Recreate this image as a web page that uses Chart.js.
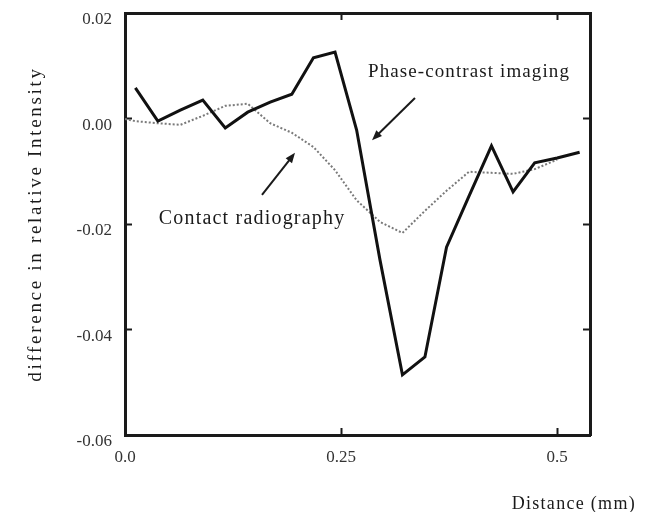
<!DOCTYPE html>
<html>
<head>
<meta charset="utf-8">
<script src="https://cdn.jsdelivr.net/npm/chart.js@4/dist/chart.umd.min.js"></script>
<style>
  html, body { margin: 0; padding: 0; background: #ffffff; }
  #wrap { width: 647px; height: 512px; position: relative; }
</style>
</head>
<body>
<div id="wrap"><canvas id="c" width="647" height="512"></canvas></div>
<script>
// ---- data ----
const distPhase = [0.012, 0.038, 0.064, 0.090, 0.116, 0.142, 0.168, 0.193, 0.218, 0.243, 0.268,
                   0.295, 0.321, 0.347, 0.372, 0.398, 0.424, 0.449, 0.474, 0.500, 0.526];
const phaseValues = [0.0058, -0.0005, 0.0016, 0.0035, -0.0018, 0.0012, 0.0031, 0.0046, 0.0115, 0.0126, -0.0022,
                     -0.0268, -0.0486, -0.0452, -0.0244, -0.0147, -0.0052, -0.0139, -0.0084, -0.0075, -0.0064];
const distContact = [0.000, 0.012, 0.038, 0.064, 0.090, 0.116, 0.142, 0.168, 0.193, 0.218, 0.243,
                     0.268, 0.295, 0.321, 0.347, 0.372, 0.398, 0.424, 0.449, 0.474, 0.500];
const contactValues = [-0.0001, -0.0005, -0.0009, -0.0012, 0.0005, 0.0024, 0.0028, -0.0009, -0.0027, -0.0054, -0.0098,
                       -0.0155, -0.0196, -0.0217, -0.0175, -0.0137, -0.0101, -0.0103, -0.0105, -0.0096, -0.0078];
const xTicks = [0, 0.25, 0.5];
const xTickLabels = ['0.0', '0.25', '0.5'];
const yTicks = [0.02, 0.00, -0.02, -0.04, -0.06];
const yTickLabels = ['0.02', '0.00', '-0.02', '-0.04', '-0.06'];
const seriesNames = ['Phase-contrast imaging', 'Contact radiography'];
const xTitle = 'Distance (mm)';
const yTitle = 'difference in relative Intensity';

const FONT = '"Liberation Serif", "Times New Roman", serif';

function pairs(xs, ys) { return xs.map((x, i) => ({ x: x, y: ys[i] })); }
function setTicks(vals) { return function (scale) { scale.ticks = vals.map(v => ({ value: v })); }; }
function labelFor(vals, labels) {
  return function (value) {
    const i = vals.findIndex(v => Math.abs(v - value) < 1e-9);
    return i >= 0 ? labels[i] : '';
  };
}
function noPad(s) { s.paddingTop = 0; s.paddingBottom = 0; s.paddingLeft = 0; s.paddingRight = 0; }

const annotate = {
  id: 'annotate',
  afterDraw(chart) {
    const ctx = chart.ctx;
    const xs = chart.scales.x, ys = chart.scales.y;
    const px = v => xs.getPixelForValue(v), py = v => ys.getPixelForValue(v);
    ctx.save();
    ctx.fillStyle = '#1a1a1a';
    ctx.strokeStyle = '#1a1a1a';
    ctx.textBaseline = 'middle';
    ctx.textAlign = 'center';

    function spaced(size, ls) {
      ctx.font = size + 'px ' + FONT;
      try { ctx.letterSpacing = ls + 'px'; } catch (e) {}
    }
    // labels for the two curves
    spaced(19, 1.1);
    ctx.fillText(seriesNames[0], px(0.398), py(0.0088));
    spaced(20, 1.2);
    ctx.fillText(seriesNames[1], px(0.147), py(-0.0190));

    function arrow(x1, y1, x2, y2) {
      const a = px(x1), b = py(y1), c = px(x2), d = py(y2);
      const ang = Math.atan2(d - b, c - a);
      ctx.lineWidth = 2;
      ctx.beginPath();
      ctx.moveTo(a, b);
      ctx.lineTo(c - 6 * Math.cos(ang), d - 6 * Math.sin(ang));
      ctx.stroke();
      ctx.beginPath();
      ctx.moveTo(c, d);
      ctx.lineTo(c - 10 * Math.cos(ang) + 4 * Math.sin(ang), d - 10 * Math.sin(ang) - 4 * Math.cos(ang));
      ctx.lineTo(c - 10 * Math.cos(ang) - 4 * Math.sin(ang), d - 10 * Math.sin(ang) + 4 * Math.cos(ang));
      ctx.closePath();
      ctx.fill();
    }
    arrow(0.3355, 0.0039, 0.2858, -0.0041);
    arrow(0.1585, -0.0145, 0.1967, -0.0065);

    // axis titles
    spaced(18, 1.3);
    ctx.textAlign = 'right';
    ctx.fillText(xTitle, 636, 504);
    spaced(19, 2.7);
    ctx.textAlign = 'center';
    ctx.translate(36, (chart.chartArea.top + chart.chartArea.bottom) / 2);
    ctx.rotate(-Math.PI / 2);
    ctx.fillText(yTitle, 0, 0);
    ctx.restore();
  }
};

const frameGrid = {
  drawOnChartArea: false,
  drawTicks: true,
  tickLength: -7,
  tickWidth: 2,
  color: '#1a1a1a'
};
const frameBorder = { display: true, color: '#1a1a1a', width: 3 };

new Chart(document.getElementById('c'), {
  type: 'line',
  data: {
    datasets: [
      {
        label: seriesNames[0],
        data: pairs(distPhase, phaseValues),
        borderColor: '#111111',
        borderWidth: 3,
        pointRadius: 0,
        tension: 0,
        xAxisID: 'x', yAxisID: 'y'
      },
      {
        label: seriesNames[1],
        data: pairs(distContact, contactValues),
        borderColor: '#7a7a7a',
        borderWidth: 2,
        borderDash: [2, 2],
        pointRadius: 0,
        tension: 0,
        xAxisID: 'x', yAxisID: 'y'
      }
    ]
  },
  options: {
    responsive: false,
    maintainAspectRatio: false,
    animation: false,
    devicePixelRatio: 1,
    layout: { padding: { top: 13, right: 57, left: 0, bottom: 0 } },
    plugins: { legend: { display: false }, tooltip: { enabled: false } },
    scales: {
      x: {
        type: 'linear', position: 'bottom', min: 0, max: 0.538,
        afterBuildTicks: setTicks(xTicks),
        afterFit: s => { s.height = 77; noPad(s); },
        ticks: { includeBounds: false, padding: 19, color: '#333', font: { family: FONT, size: 17 },
                 callback: labelFor(xTicks, xTickLabels), maxRotation: 0, autoSkip: false },
        grid: Object.assign({}, frameGrid, { color: ctx => (ctx.tick && ctx.tick.value === 0 ? 'rgba(0,0,0,0)' : '#1a1a1a') }),
        border: frameBorder,
        title: { display: false }
      },
      x2: {
        type: 'linear', position: 'top', min: 0, max: 0.538,
        afterBuildTicks: setTicks([0.25, 0.5]),
        afterFit: s => { s.height = 0; noPad(s); },
        ticks: { display: false },
        grid: frameGrid,
        border: frameBorder
      },
      y: {
        type: 'linear', position: 'left', min: -0.06, max: 0.02,
        afterBuildTicks: setTicks(yTicks),
        afterFit: s => { s.width = 125; noPad(s); },
        ticks: { padding: 20, labelOffset: 7, color: '#333', font: { family: FONT, size: 17 },
                 callback: labelFor(yTicks, yTickLabels), autoSkip: false },
        grid: Object.assign({}, frameGrid, { color: ctx => (ctx.tick && (ctx.tick.value === 0.02 || ctx.tick.value === -0.06) ? 'rgba(0,0,0,0)' : '#1a1a1a') }),
        border: frameBorder,
        title: { display: false }
      },
      y2: {
        type: 'linear', position: 'right', min: -0.06, max: 0.02,
        afterBuildTicks: setTicks([0.00, -0.02, -0.04]),
        afterFit: s => { s.width = 0; noPad(s); },
        ticks: { display: false },
        grid: frameGrid,
        border: frameBorder
      }
    }
  },
  plugins: [annotate]
});
</script>
</body>
</html>
